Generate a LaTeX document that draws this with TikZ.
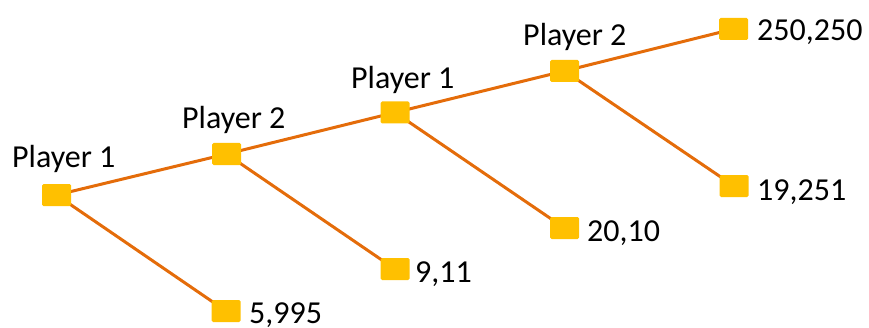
\documentclass[tikz,border=0pt]{standalone}
\usepackage{fontspec}
\setmainfont{Carlito}
\definecolor{edgeor}{HTML}{E46C0A}
\definecolor{nodey}{HTML}{FFC000}
\tikzset{
  sq/.style={fill=nodey, draw=none, minimum width=29pt, minimum height=22pt, inner sep=0pt, rounded corners=1.5pt},
  edge/.style={draw=edgeor, line width=3pt},
  lbl/.style={anchor=base west, inner sep=0pt, font=\fontsize{32pt}{36pt}\selectfont}
}
\begin{document}
\begin{tikzpicture}[x=1pt,y=1pt]
\useasboundingbox (0,0) rectangle (869,327);
\coordinate (r) at (56.5,132);
\coordinate (a) at (226.5,173);
\coordinate (b) at (395,214.5);
\coordinate (c) at (564.5,256);
\coordinate (t1) at (733.5,298);
\coordinate (t2) at (734,141);
\coordinate (t3) at (564.5,99);
\coordinate (t4) at (395,58);
\coordinate (t5) at (226,16);
\draw[edge] (r) -- (a) -- (b) -- (c) -- (t1);
\draw[edge] (r) -- (t5);
\draw[edge] (a) -- (t4);
\draw[edge] (b) -- (t3);
\draw[edge] (c) -- (t2);
\foreach \n in {r,a,b,c,t1,t2,t3,t4,t5} {\node[sq] (n\n) at (\n) {};}
\node[lbl] (l1) at (12,160) {Player 1};
\node[lbl] (l2) at (182,198) {Player 2};
\node[lbl] (l3) at (351,238) {Player 1};
\node[lbl] (l4) at (523,281) {Player 2};
\node[lbl] (p1) at (757,286) {250,250};
\node[lbl] (p2) at (757,127) {19,251};
\node[lbl] (p3) at (587,86) {20,10};
\node[lbl] (p4) at (415,45) {9,11};
\node[lbl] (p5) at (249,4) {5,995};
\end{tikzpicture}
\end{document}
